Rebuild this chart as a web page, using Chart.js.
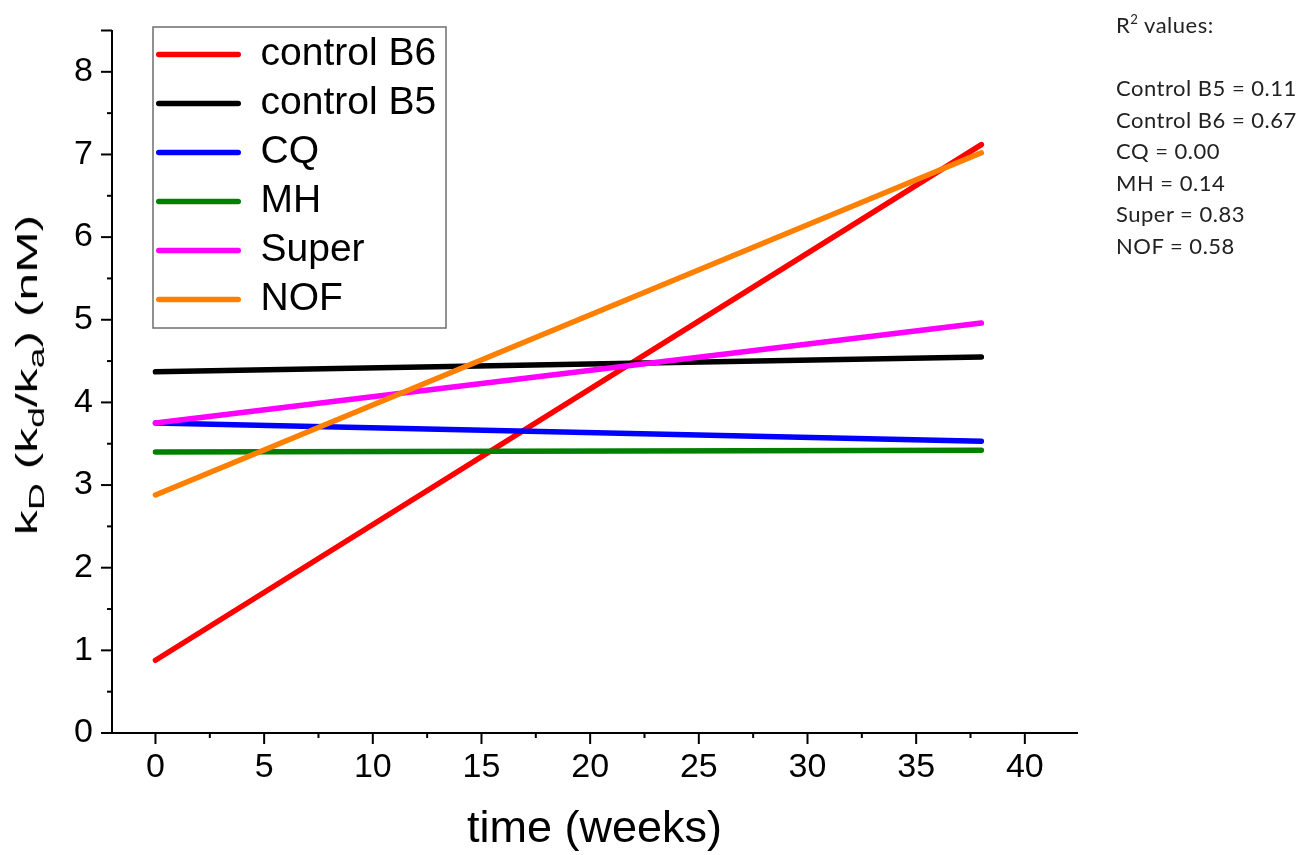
<!DOCTYPE html>
<html>
<head>
<meta charset="utf-8">
<script src="https://cdn.jsdelivr.net/npm/chart.js@4.4.1/dist/chart.umd.min.js"></script>
<style>
html, body { margin: 0; padding: 0; background: #fff; }
#wrap { position: relative; width: 1305px; height: 855px; overflow: hidden; background: #fff; }
#c { position: absolute; left: 0; top: 0; }
#ytitle {
  position: absolute; left: 27px; top: 375px;
  transform: translate(-50%, -50%) rotate(-90deg) scaleX(1.66);
  font-family: "Liberation Sans", Arial, sans-serif; font-size: 30px; line-height: 1;
  white-space: nowrap; color: #000;
}
#ytitle sub { font-size: 0.75em; vertical-align: -0.3em; line-height: 0; }
#r2 {
  position: absolute; left: 1116px; top: 9px;
  font-family: Lato, "Open Sans", sans-serif; font-size: 22px; line-height: 31.5px;
  letter-spacing: 0.5px;
  color: #222; white-space: nowrap;
}
#r2 sup { font-size: 0.6em; vertical-align: 0.7em; line-height: 0; }
</style>
</head>
<body>
<div id="wrap">
  <canvas id="c" width="1305" height="855"></canvas>
  <div id="ytitle">k<sub>D</sub> (k<sub>d</sub>/k<sub>a</sub>) (nM)</div>
  <div id="r2"></div>
</div>
<script>
// ---- data ----
const timeWeeks = [0, 38];
const seriesNames = ['control B6', 'control B5', 'CQ', 'MH', 'Super', 'NOF'];
const controlB6 = [0.88, 7.12];
const controlB5 = [4.37, 4.55];
const cq = [3.75, 3.53];
const mh = [3.40, 3.42];
const superS = [3.75, 4.96];
const nof = [2.88, 7.02];
const seriesColors = ['#ff0000', '#000000', '#0000ff', '#008000', '#ff00ff', '#ff8000'];
const xTickValues = [0, 5, 10, 15, 20, 25, 30, 35, 40];
const yTickValues = [0, 1, 2, 3, 4, 5, 6, 7, 8];
const r2Labels = ['Control B5', 'Control B6', 'CQ', 'MH', 'Super', 'NOF'];
const r2Values = ['0.11', '0.67', '0.00', '0.14', '0.83', '0.58'];

// R² annotation text
(function () {
  const el = document.getElementById('r2');
  let html = 'R<sup>2</sup> values:<br>&nbsp;<br>';
  html += r2Labels.map((l, i) => l + ' = ' + r2Values[i]).join('<br>');
  el.innerHTML = html;
})();

const allSeries = [controlB6, controlB5, cq, mh, superS, nof];
const datasets = allSeries.map((vals, i) => ({
  label: seriesNames[i],
  data: timeWeeks.map((t, j) => ({ x: t, y: vals[j] })),
  borderColor: seriesColors[i],
  backgroundColor: seriesColors[i],
  borderWidth: 5.5,
  borderCapStyle: 'round',
  pointRadius: 0,
  fill: false,
  tension: 0,
  order: -i
}));

const FONT = '"Liberation Sans", Arial, sans-serif';

const legendPlace = {
  id: 'legendPlace',
  afterLayout(chart) {
    const lg = chart.legend;
    if (!lg) return;
    lg.left = 146; lg.top = 25; lg.right = 446; lg.bottom = 360;
    lg.width = lg.right - lg.left; lg.height = lg.bottom - lg.top;
  },
  afterDraw(chart) {
    const ctx = chart.ctx;
    ctx.save();
    ctx.strokeStyle = '#6e6e6e';
    ctx.lineWidth = 1.5;
    ctx.strokeRect(153, 27, 293, 301);
    ctx.restore();
  }
};

const tickMarks = {
  id: 'tickMarks',
  afterDraw(chart) {
    const ctx = chart.ctx;
    const xs = chart.scales.x, ys = chart.scales.y;
    ctx.save();
    ctx.strokeStyle = '#000';
    ctx.lineWidth = 2;
    ctx.lineCap = 'butt';
    const major = 11, minor = 5;
    const yAxisX = ys.right;
    const xAxisY = xs.top;
    const yStep = yTickValues[1] - yTickValues[0];
    yTickValues.forEach(v => {
      const p = ys.getPixelForValue(v);
      ctx.beginPath(); ctx.moveTo(yAxisX - major, p); ctx.lineTo(yAxisX, p); ctx.stroke();
      const m = v + yStep / 2;
      if (m <= ys.max + 1e-9) {
        const pm = ys.getPixelForValue(m);
        const len = Math.abs(m - ys.max) < 1e-9 ? major : minor;
        ctx.beginPath(); ctx.moveTo(yAxisX - len, pm); ctx.lineTo(yAxisX, pm); ctx.stroke();
      }
    });
    const xStep = xTickValues[1] - xTickValues[0];
    xTickValues.forEach((v, i) => {
      const p = xs.getPixelForValue(v);
      ctx.beginPath(); ctx.moveTo(p, xAxisY); ctx.lineTo(p, xAxisY + major); ctx.stroke();
      if (i < xTickValues.length - 1) {
        const pm = xs.getPixelForValue(v + xStep / 2);
        ctx.beginPath(); ctx.moveTo(pm, xAxisY); ctx.lineTo(pm, xAxisY + minor); ctx.stroke();
      }
    });
    ctx.restore();
  }
};

new Chart(document.getElementById('c'), {
  type: 'line',
  data: { datasets },
  options: {
    responsive: false,
    animation: false,
    devicePixelRatio: 1,
    layout: { padding: { left: 0, top: 30.5, right: 228, bottom: 0 } },
    plugins: {
      tooltip: { enabled: false },
      title: { display: false },
      legend: {
        display: true,
        position: 'chartArea',
        align: 'start',
        labels: {
          font: { family: FONT, size: 39 },
          color: '#000',
          boxWidth: 85,
          boxHeight: 5.5,
          padding: 10,
          generateLabels: (chart) => chart.data.datasets.map((ds, i) => ({
            text: ds.label,
            fillStyle: ds.borderColor,
            strokeStyle: ds.borderColor,
            lineWidth: 0,
            borderRadius: 2.75,
            hidden: false,
            datasetIndex: i,
            fontColor: '#000'
          }))
        }
      }
    },
    scales: {
      x: {
        type: 'linear',
        min: -2,
        max: 42.4,
        afterFit: (s) => { s.height = 122; s.paddingLeft = 0; s.paddingRight = 0; },
        afterBuildTicks: (s) => { s.ticks = xTickValues.map(v => ({ value: v })); },
        grid: { display: false, drawTicks: false },
        border: { display: true, color: '#000', width: 2 },
        ticks: {
          font: { family: FONT, size: 34 },
          color: '#000',
          padding: 14,
          maxRotation: 0,
          autoSkip: false
        },
        title: {
          display: true,
          text: 'time (weeks)',
          font: { family: FONT, size: 45, lineHeight: 1 },
          color: '#000',
          padding: { top: 0, bottom: 3 }
        }
      },
      y: {
        type: 'linear',
        min: 0,
        max: 8.5,
        afterFit: (s) => { s.width = 112; s.paddingTop = 0; s.paddingBottom = 0; },
        afterBuildTicks: (s) => { s.ticks = yTickValues.map(v => ({ value: v })); },
        grid: { display: false, drawTicks: false },
        border: { display: true, color: '#000', width: 2 },
        ticks: {
          font: { family: FONT, size: 34 },
          color: '#000',
          padding: 19,
          autoSkip: false
        },
        title: { display: false }
      }
    }
  },
  plugins: [legendPlace, tickMarks]
});
</script>
</body>
</html>
